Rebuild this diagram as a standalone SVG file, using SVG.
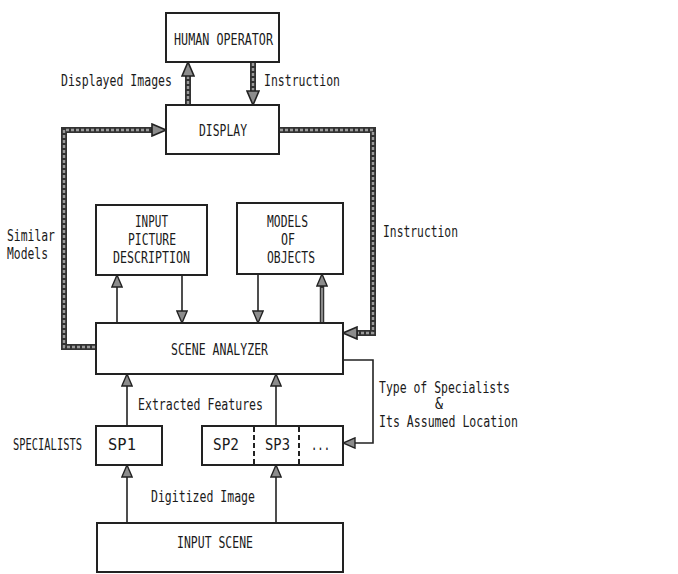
<svg xmlns="http://www.w3.org/2000/svg" width="678" height="574" viewBox="0 0 678 574">
<style>
  .box { fill: #fff; stroke: #222; stroke-width: 2; }
  .t { font-family: "DejaVu Sans Mono", "Liberation Mono", monospace; font-size: 12.5px; fill: #1a1a1a; }
  .thin { fill: none; stroke: #222; stroke-width: 1.6; }
  .thkO { fill: none; stroke: #333; stroke-width: 6; }
  .thkI { fill: none; stroke: #9a9a9a; stroke-width: 2.4; stroke-dasharray: 3 2; }
  .medO { fill: none; stroke: #333; stroke-width: 4.5; }
  .medI { fill: none; stroke: #a0a0a0; stroke-width: 1.6; }
  .tip { fill: none; stroke: none; }
  .dash { stroke: #222; stroke-width: 2; stroke-dasharray: 5 3; }
</style>
<defs>
  <marker id="ah" viewBox="0 0 16 14" refX="15" refY="7" markerWidth="16" markerHeight="14" markerUnits="userSpaceOnUse" orient="auto">
    <path d="M1,1 L15,7 L1,13 Z" fill="#8c8c8c" stroke="#222" stroke-width="1.6" stroke-linejoin="miter"/>
  </marker>
  <marker id="ahs" viewBox="0 0 16 14" refX="15" refY="7" markerWidth="15" markerHeight="12" markerUnits="userSpaceOnUse" orient="auto">
    <path d="M1,1 L15,7 L1,13 Z" fill="#8c8c8c" stroke="#222" stroke-width="1.6"/>
  </marker>
</defs>
<rect width="678" height="574" fill="#fff"/>

<g id="connectors">
  <path class="thkO" d="M188,105 V70"/>
  <path class="thkI" d="M188,104 V76"/>
  <path class="tip" d="M188,80 V62" marker-end="url(#ah)"/>
  <path class="thkO" d="M253,62 V97"/>
  <path class="thkI" d="M253,63 V91"/>
  <path class="tip" d="M253,87 V105" marker-end="url(#ah)"/>
  <path class="thkO" d="M96,347 H64 V130 H156"/>
  <path class="thkI" d="M95,347 H64 V130 H151"/>
  <path class="tip" d="M148,130 H166" marker-end="url(#ah)"/>
  <path class="thkO" d="M279,130 H373 V333 H353"/>
  <path class="thkI" d="M280,130 H373 V333 H358"/>
  <path class="tip" d="M361,333 H343" marker-end="url(#ah)"/>
  <path class="thin" d="M117,323 V285"/>
  <path class="tip" d="M117,293 V275" marker-end="url(#ahs)"/>
  <path class="thin" d="M182,275 V313"/>
  <path class="tip" d="M182,305 V323" marker-end="url(#ahs)"/>
  <path class="thin" d="M258,274 V313"/>
  <path class="tip" d="M258,305 V323" marker-end="url(#ahs)"/>
  <path class="medO" d="M322,323 V282"/>
  <path class="medI" d="M322,322 V288"/>
  <path class="tip" d="M322,292 V274" marker-end="url(#ahs)"/>
  <path class="thin" d="M127,426 V384"/>
  <path class="tip" d="M127,392 V374" marker-end="url(#ahs)"/>
  <path class="thin" d="M276,426 V384"/>
  <path class="tip" d="M276,392 V374" marker-end="url(#ahs)"/>
  <path class="thin" d="M343,360 H373 V443 H353"/>
  <path class="tip" d="M361,443 H343" marker-end="url(#ahs)"/>
  <path class="thin" d="M127,523 V475"/>
  <path class="tip" d="M127,483 V465" marker-end="url(#ahs)"/>
  <path class="thin" d="M276,523 V475"/>
  <path class="tip" d="M276,483 V465" marker-end="url(#ahs)"/>
</g>

<g id="human-operator">
  <rect class="box" x="166" y="13" width="113" height="49"/>
  <text class="t" transform="scale(1,1.2)" x="174" y="37.5" textLength="99" lengthAdjust="spacingAndGlyphs">HUMAN OPERATOR</text>
</g>
<g id="display">
  <rect class="box" x="166" y="105" width="113" height="49"/>
  <text class="t" transform="scale(1,1.2)" x="199" y="113.33" textLength="48" lengthAdjust="spacingAndGlyphs">DISPLAY</text>
</g>
<g id="input-picture-description">
  <rect class="box" x="96" y="205" width="111" height="70"/>
  <text class="t" transform="scale(1,1.2)" x="135" y="189.17" textLength="33" lengthAdjust="spacingAndGlyphs">INPUT</text>
  <text class="t" transform="scale(1,1.2)" x="128" y="204.17" textLength="48" lengthAdjust="spacingAndGlyphs">PICTURE</text>
  <text class="t" transform="scale(1,1.2)" x="113" y="219.17" textLength="77" lengthAdjust="spacingAndGlyphs">DESCRIPTION</text>
</g>
<g id="models-of-objects">
  <rect class="box" x="237" y="203" width="106" height="71"/>
  <text class="t" transform="scale(1,1.2)" x="267" y="189.17" textLength="41" lengthAdjust="spacingAndGlyphs">MODELS</text>
  <text class="t" transform="scale(1,1.2)" x="281" y="204.17" textLength="14" lengthAdjust="spacingAndGlyphs">OF</text>
  <text class="t" transform="scale(1,1.2)" x="267" y="219.17" textLength="48" lengthAdjust="spacingAndGlyphs">OBJECTS</text>
</g>
<g id="scene-analyzer">
  <rect class="box" x="96" y="323" width="247" height="51"/>
  <text class="t" transform="scale(1,1.2)" x="171" y="295.83" textLength="97" lengthAdjust="spacingAndGlyphs">SCENE ANALYZER</text>
</g>
<g id="sp1">
  <rect class="box" x="96" y="426" width="66" height="39"/>
  <text class="t" transform="scale(1,1.2)" x="108" y="375" textLength="28" lengthAdjust="spacingAndGlyphs">SP1</text>
</g>
<g id="sp2-sp3">
  <rect class="box" x="202" y="426" width="141" height="39"/>
  <line class="dash" x1="254" y1="427" x2="254" y2="464"/>
  <line class="dash" x1="299" y1="427" x2="299" y2="464"/>
  <text class="t" transform="scale(1,1.2)" x="213" y="375" textLength="26" lengthAdjust="spacingAndGlyphs">SP2</text>
  <text class="t" transform="scale(1,1.2)" x="265" y="375" textLength="25" lengthAdjust="spacingAndGlyphs">SP3</text>
  <text class="t" transform="scale(1,1.2)" x="311" y="375" textLength="19" lengthAdjust="spacingAndGlyphs">...</text>
</g>
<g id="input-scene">
  <rect class="box" x="97" y="523" width="246" height="49"/>
  <text class="t" transform="scale(1,1.2)" x="177" y="456.67" textLength="76" lengthAdjust="spacingAndGlyphs">INPUT SCENE</text>
</g>

<g id="labels">
  <text class="t" transform="scale(1,1.2)" x="61" y="71.67" textLength="111" lengthAdjust="spacingAndGlyphs">Displayed Images</text>
  <text class="t" transform="scale(1,1.2)" x="264" y="71.67" textLength="76" lengthAdjust="spacingAndGlyphs">Instruction</text>
  <text class="t" transform="scale(1,1.2)" x="7" y="200.83" textLength="48" lengthAdjust="spacingAndGlyphs">Similar</text>
  <text class="t" transform="scale(1,1.2)" x="7" y="215.83" textLength="41" lengthAdjust="spacingAndGlyphs">Models</text>
  <text class="t" transform="scale(1,1.2)" x="383" y="197.5" textLength="75" lengthAdjust="spacingAndGlyphs">Instruction</text>
  <text class="t" transform="scale(1,1.2)" x="138" y="341.67" textLength="125" lengthAdjust="spacingAndGlyphs">Extracted Features</text>
  <text class="t" transform="scale(1,1.2)" x="379" y="327.5" textLength="131" lengthAdjust="spacingAndGlyphs">Type of Specialists</text>
  <text class="t" transform="scale(1,1.2)" x="435" y="340.83" textLength="8" lengthAdjust="spacingAndGlyphs">&amp;</text>
  <text class="t" transform="scale(1,1.2)" x="379" y="355.83" textLength="139" lengthAdjust="spacingAndGlyphs">Its Assumed Location</text>
  <text class="t" transform="scale(1,1.2)" x="13" y="375" textLength="69" lengthAdjust="spacingAndGlyphs">SPECIALISTS</text>
  <text class="t" transform="scale(1,1.2)" x="151" y="418.33" textLength="104" lengthAdjust="spacingAndGlyphs">Digitized Image</text>
</g>
</svg>
